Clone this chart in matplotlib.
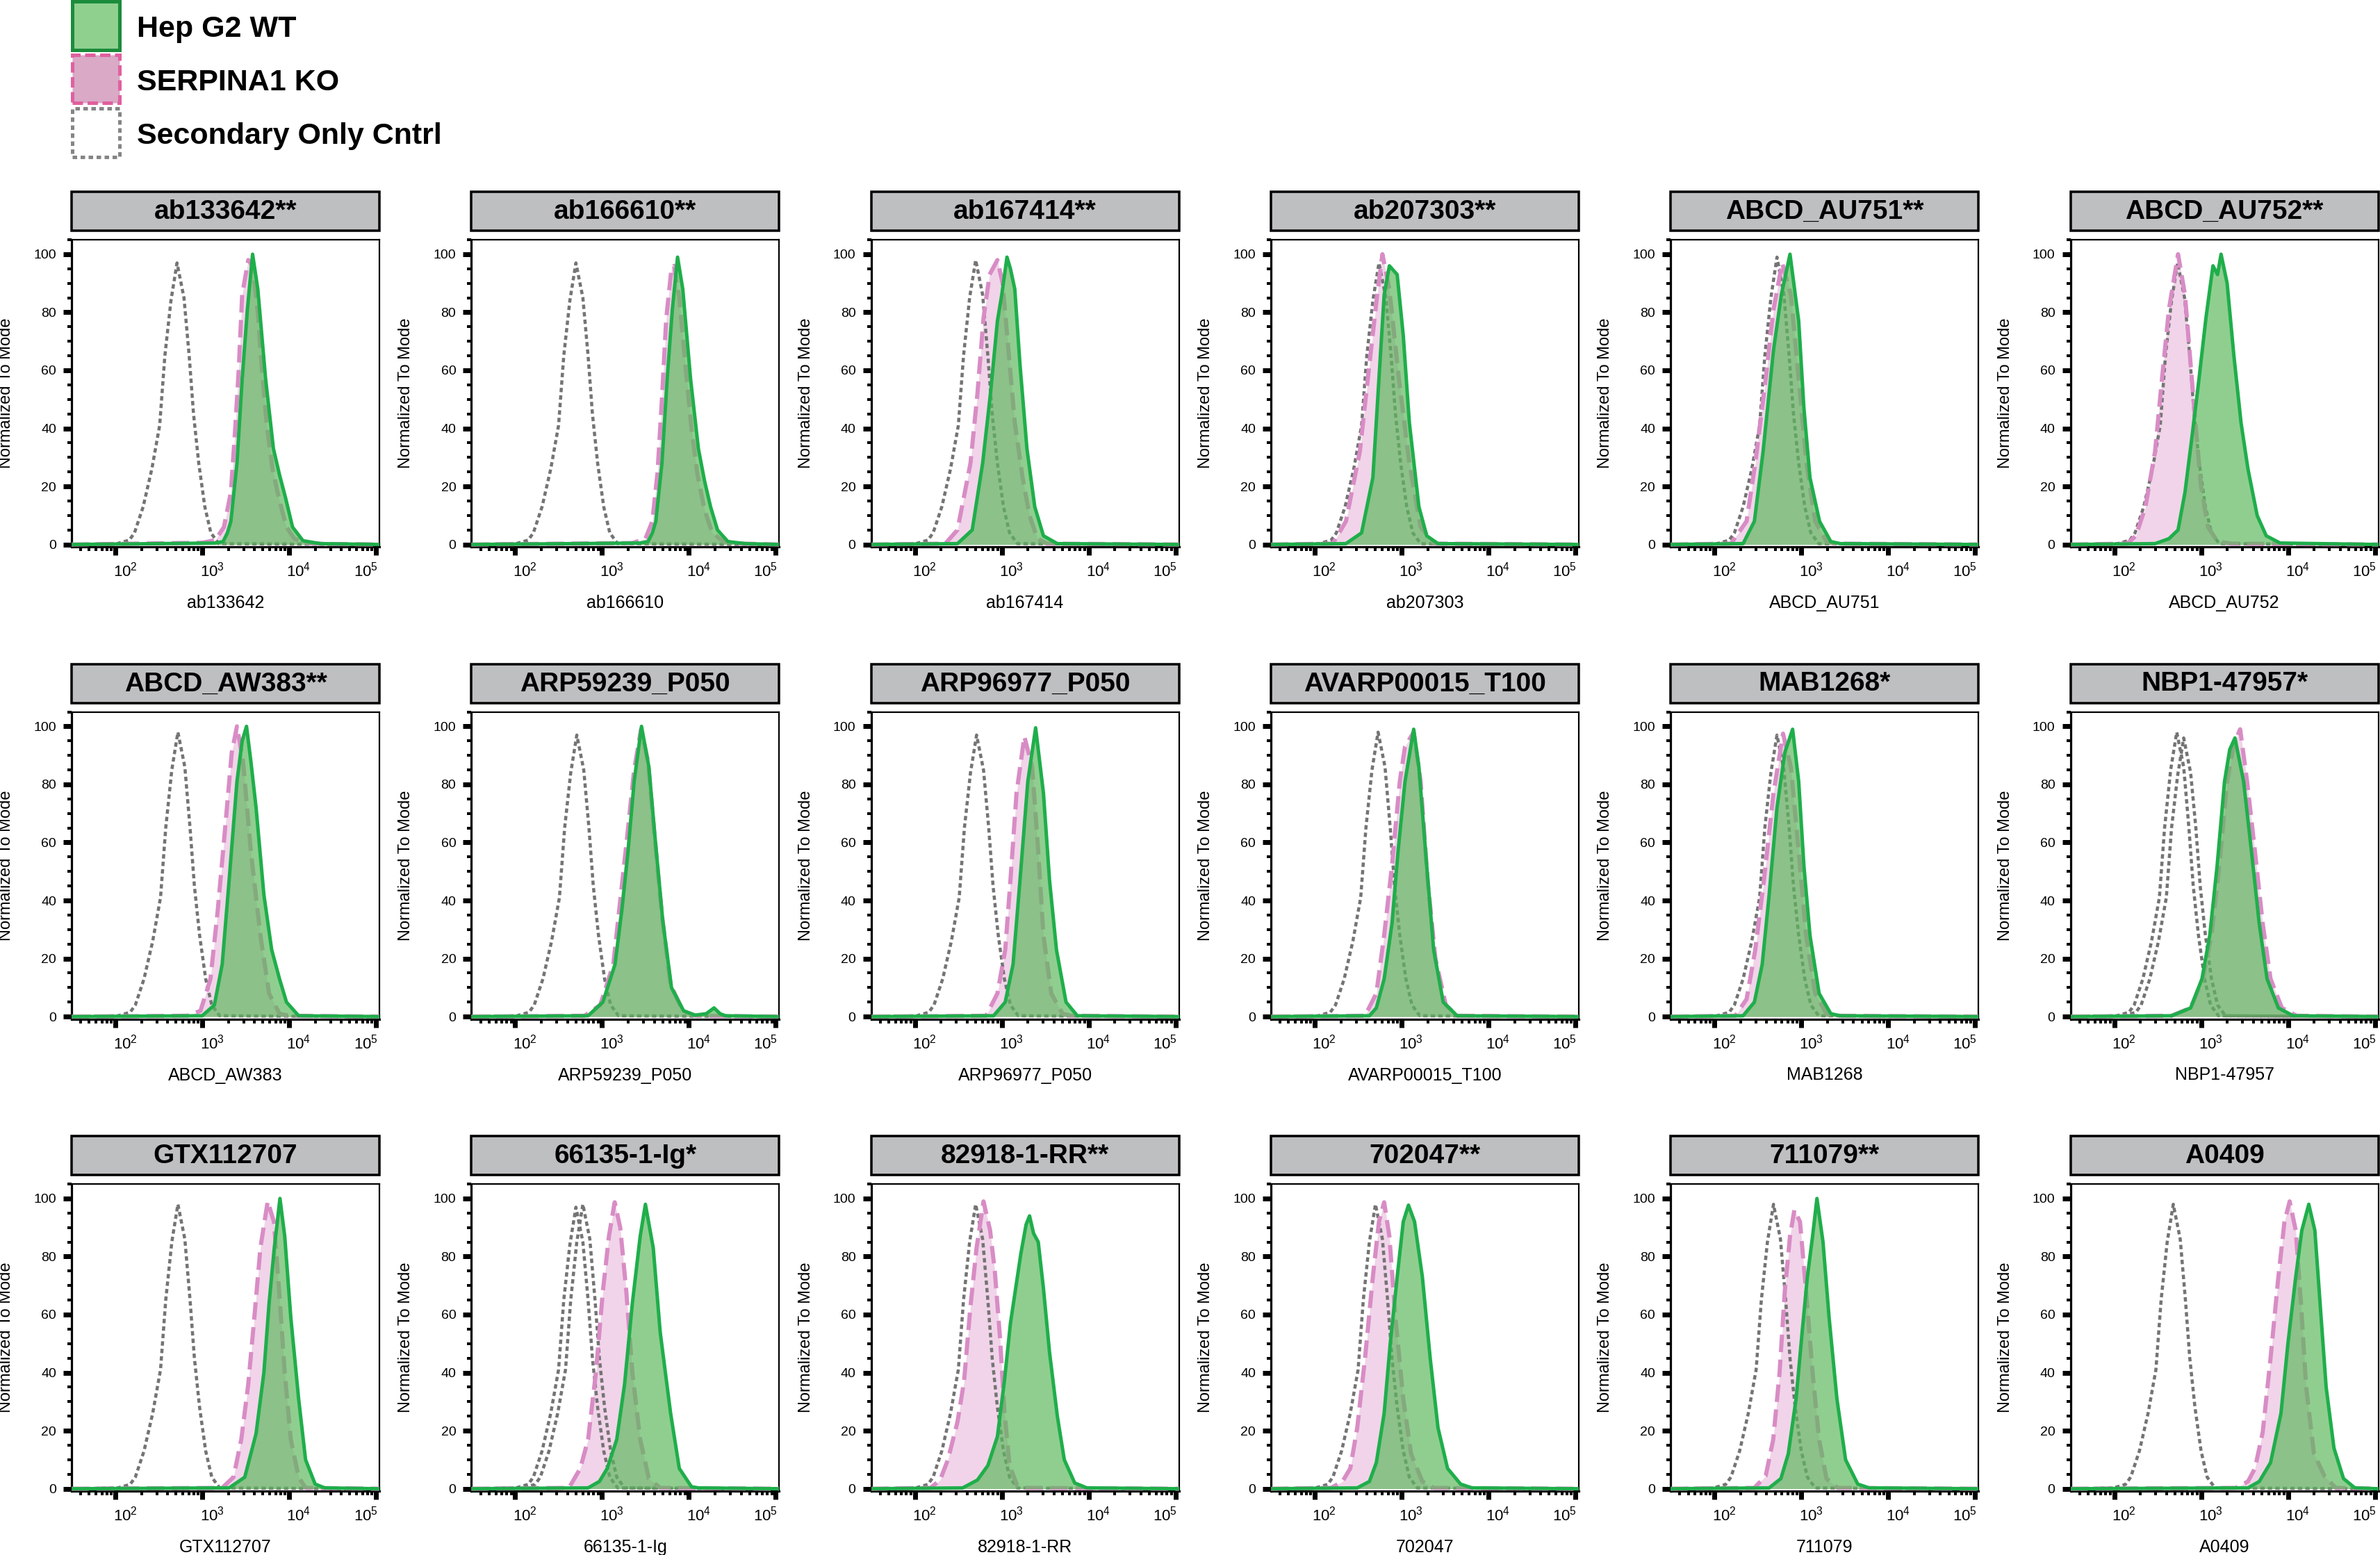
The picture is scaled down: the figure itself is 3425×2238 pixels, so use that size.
import numpy as np
import matplotlib
matplotlib.use("Agg")
import matplotlib.pyplot as plt
from matplotlib.patches import Rectangle
from matplotlib.ticker import FixedLocator, LogLocator, MultipleLocator, NullFormatter
from matplotlib.transforms import ScaledTranslation

plt.rcParams['font.family'] = ['Liberation Sans', 'DejaVu Sans']
plt.rcParams['mathtext.fontset'] = 'custom'
plt.rcParams['mathtext.rm'] = 'Liberation Sans'
plt.rcParams['mathtext.it'] = 'Liberation Sans:italic'
plt.rcParams['mathtext.bf'] = 'Liberation Sans:bold'

# ---------------- data ----------------
titles = ["ab133642**", "ab166610**", "ab167414**", "ab207303**", "ABCD_AU751**", "ABCD_AU752**",
          "ABCD_AW383**", "ARP59239_P050", "ARP96977_P050", "AVARP00015_T100", "MAB1268*", "NBP1-47957*",
          "GTX112707", "66135-1-Ig*", "82918-1-RR**", "702047**", "711079**", "A0409"]
xlabels = ["ab133642", "ab166610", "ab167414", "ab207303", "ABCD_AU751", "ABCD_AU752",
           "ABCD_AW383", "ARP59239_P050", "ARP96977_P050", "AVARP00015_T100", "MAB1268", "NBP1-47957",
           "GTX112707", "66135-1-Ig", "82918-1-RR", "702047", "711079", "A0409"]
legend_labels = ["Hep G2 WT", "SERPINA1 KO", "Secondary Only Cntrl"]
y_ticks = [0, 20, 40, 60, 80, 100]
x_tick_exps = [2, 3, 4, 5]

# curves: (log10 intensity, % of mode)
# Secondary only control
ct_01 = [(2.02,0.3),(2.16,1.5),(2.22,4),(2.32,13),(2.42,26),(2.51,41),(2.57,65),(2.64,84),(2.71,97),(2.79,85),(2.85,65),(2.90,45),(2.96,28),(3.03,13),(3.10,4),(3.19,0.3)]
ct_02 = [(2.01,0.3),(2.15,1.5),(2.21,4),(2.31,13),(2.41,26),(2.50,41),(2.56,65),(2.63,84),(2.70,97),(2.78,85),(2.84,65),(2.89,45),(2.95,28),(3.02,13),(3.09,4),(3.18,0.3)]
ct_03 = [(2.01,0.3),(2.15,1.5),(2.21,4),(2.31,13),(2.41,26),(2.50,41),(2.56,65),(2.63,85),(2.70,98),(2.78,86),(2.84,65),(2.89,45),(2.95,28),(3.02,13),(3.09,4),(3.18,0.3)]
ct_04 = [(2.05,0.3),(2.19,1.5),(2.25,4),(2.35,13),(2.45,26),(2.54,41),(2.60,65),(2.67,84),(2.74,97),(2.82,85),(2.88,65),(2.93,45),(2.99,28),(3.06,13),(3.13,4),(3.22,0.3)]
ct_05 = [(2.03,0.3),(2.17,1.5),(2.23,4),(2.33,13),(2.43,26),(2.52,41),(2.58,65),(2.65,85),(2.72,99),(2.80,86),(2.86,65),(2.91,45),(2.97,28),(3.04,13),(3.11,4),(3.20,0.3)]
ct_06 = [(2.04,0.3),(2.18,1.5),(2.24,4),(2.34,13),(2.44,26),(2.53,41),(2.59,65),(2.66,84),(2.73,97),(2.81,85),(2.87,65),(2.92,45),(2.98,28),(3.05,13),(3.12,4),(3.21,0.3)]
ct_07 = [(2.03,0.3),(2.17,1.5),(2.23,4),(2.33,13),(2.43,26),(2.52,41),(2.58,65),(2.65,85),(2.72,98),(2.80,86),(2.86,65),(2.91,45),(2.97,28),(3.04,13),(3.11,4),(3.20,0.3)]
ct_08 = [(2.02,0.3),(2.16,1.5),(2.22,4),(2.32,13),(2.42,26),(2.51,41),(2.57,65),(2.64,84),(2.71,97),(2.79,85),(2.85,65),(2.90,45),(2.96,28),(3.03,13),(3.10,4),(3.19,0.3)]
ct_09 = [(2.02,0.3),(2.16,1.5),(2.22,4),(2.32,13),(2.42,26),(2.51,41),(2.57,65),(2.64,84),(2.71,97),(2.79,85),(2.85,65),(2.90,45),(2.96,28),(3.03,13),(3.10,4),(3.19,0.3)]
ct_10 = [(2.04,0.3),(2.18,1.5),(2.24,4),(2.34,13),(2.44,26),(2.53,41),(2.59,65),(2.66,85),(2.73,98),(2.81,86),(2.87,65),(2.92,45),(2.98,28),(3.05,13),(3.12,4),(3.21,0.3)]
ct_11 = [(2.03,0.3),(2.17,1.5),(2.23,4),(2.33,13),(2.43,26),(2.52,41),(2.58,65),(2.65,84),(2.72,97),(2.80,85),(2.86,65),(2.91,45),(2.97,28),(3.04,13),(3.11,4),(3.20,0.3)]
ct_12 = [(2.03,0.3),(2.17,1.5),(2.23,4),(2.33,13),(2.43,26),(2.52,41),(2.58,65),(2.65,85),(2.72,98),(2.80,86),(2.86,65),(2.91,45),(2.97,28),(3.04,13),(3.11,4),(3.20,0.3)]
ct_13 = [(2.03,0.3),(2.17,1.5),(2.23,4),(2.33,13),(2.43,26),(2.52,41),(2.58,65),(2.65,85),(2.72,98),(2.80,86),(2.86,65),(2.91,45),(2.97,28),(3.04,13),(3.11,4),(3.20,0.3)]
ct_14 = [(2.01,0.3),(2.15,1.5),(2.21,4),(2.31,13),(2.41,26),(2.50,41),(2.56,65),(2.63,84),(2.70,97),(2.78,85),(2.84,65),(2.89,45),(2.95,28),(3.02,13),(3.09,4),(3.18,0.3)]
ct_15 = [(2.01,0.3),(2.15,1.5),(2.21,4),(2.31,13),(2.41,26),(2.50,41),(2.56,65),(2.63,85),(2.70,98),(2.78,86),(2.84,65),(2.89,45),(2.95,28),(3.02,13),(3.09,4),(3.18,0.3)]
ct_16 = [(2.01,0.3),(2.15,1.5),(2.21,4),(2.31,13),(2.41,26),(2.50,41),(2.56,65),(2.63,85),(2.70,98),(2.78,86),(2.84,65),(2.89,45),(2.95,28),(3.02,13),(3.09,4),(3.18,0.3)]
ct_17 = [(1.99,0.3),(2.13,1.5),(2.19,4),(2.29,13),(2.39,26),(2.48,41),(2.54,65),(2.61,85),(2.68,98),(2.76,86),(2.82,65),(2.87,45),(2.93,28),(3.00,13),(3.07,4),(3.16,0.3)]
ct_18 = [(1.99,0.3),(2.13,1.5),(2.19,4),(2.29,13),(2.39,26),(2.48,41),(2.54,65),(2.61,85),(2.68,98),(2.76,86),(2.82,65),(2.87,45),(2.93,28),(3.00,13),(3.07,4),(3.16,0.3)]
ct2_12 = [(2.11,0.3),(2.25,1.5),(2.31,4),(2.41,13),(2.51,26),(2.60,41),(2.66,65),(2.73,83),(2.80,96),(2.88,84),(2.94,65),(2.99,45),(3.05,28),(3.12,13),(3.19,4),(3.28,0.3)]
ct2_14 = [(2.09,0.3),(2.23,1.5),(2.29,4),(2.39,13),(2.49,26),(2.58,41),(2.64,65),(2.71,85),(2.78,98),(2.86,86),(2.92,65),(2.97,45),(3.03,28),(3.10,13),(3.17,4),(3.26,0.3)]

# SERPINA1 KO
ko_01 = [(3.00,0.6),(3.15,1.5),(3.25,6),(3.33,18),(3.38,40),(3.42,60),(3.46,86),(3.53,98),(3.58,96),(3.64,80),(3.67,67),(3.74,42),(3.81,26),(3.89,15),(3.97,6),(4.06,2),(4.20,0.5),(4.40,0.2)]
ko_02 = [(3.35,0.5),(3.50,2),(3.58,8),(3.64,25),(3.69,50),(3.74,78),(3.80,95),(3.83,96),(3.89,85),(3.96,62),(4.03,40),(4.10,24),(4.18,12),(4.27,4),(4.40,1),(4.60,0.3)]
ko_03 = [(2.35,0.3),(2.49,5),(2.64,28),(2.72,52),(2.79,78),(2.86,93),(2.95,98),(3.01,90),(3.08,66),(3.15,42),(3.24,23),(3.32,10),(3.41,2),(3.52,0.3)]
ko_04 = [(2.21,0.3),(2.36,8),(2.52,32),(2.63,62),(2.72,86),(2.78,100),(2.86,88),(2.97,57),(3.09,28),(3.22,6),(3.38,0.3)]
ko_05 = [(2.19,0.3),(2.37,8),(2.47,28),(2.59,57),(2.68,81),(2.78,97),(2.88,86),(2.97,57),(3.06,28),(3.16,8),(3.29,1),(3.40,0.3)]
ko_06 = [(2.15,0.3),(2.25,3),(2.36,13),(2.47,32),(2.55,57),(2.63,81),(2.735,100),(2.815,86),(2.88,62),(2.935,42),(3.00,20),(3.08,6),(3.19,1),(3.35,0.3)]
ko_07 = [(2.83,0.3),(2.98,2),(3.095,13),(3.18,37),(3.27,67),(3.34,91),(3.40,100),(3.47,88),(3.56,57),(3.67,28),(3.77,8),(3.89,1),(4.00,0.3)]
ko_08 = [(2.80,0.3),(2.98,4),(3.13,18),(3.21,40),(3.29,62),(3.37,85),(3.45,99),(3.53,88),(3.60,64),(3.69,35),(3.79,11),(3.93,2),(4.08,0.3)]
ko_09 = [(2.82,0.3),(2.95,8),(3.04,23),(3.10,47),(3.17,77),(3.26,96.5),(3.35,86),(3.42,57),(3.48,28),(3.57,8),(3.70,1),(3.80,0.3)]
ko_10 = [(2.58,0.3),(2.71,8),(2.80,28),(2.89,52),(2.98,81),(3.04,93),(3.14,98),(3.22,81),(3.30,47),(3.39,20),(3.51,4),(3.64,0.3)]
ko_11 = [(2.24,0.3),(2.37,6),(2.47,23),(2.57,47),(2.68,77),(2.79,97.5),(2.88,86),(2.97,57),(3.055,28),(3.16,8),(3.29,1),(3.40,0.3)]
ko_12 = [(2.66,0.3),(2.88,3),(3.02,13),(3.12,28),(3.21,52),(3.30,81),(3.38,94),(3.45,99),(3.53,81),(3.62,57),(3.71,32),(3.80,13),(3.93,3),(4.10,0.3)]
ko_13 = [(3.23,0.3),(3.36,4),(3.45,17),(3.53,36),(3.60,59),(3.67,83),(3.754,99),(3.825,92),(3.886,68),(3.95,40),(4.02,17),(4.11,4),(4.19,0.3)]
ko_14 = [(2.62,0.3),(2.75,7),(2.84,17),(2.93,40),(3.01,68),(3.08,87),(3.146,98.7),(3.21,90),(3.28,68),(3.35,40),(3.44,17),(3.54,3.5),(3.67,0.3)]
ko_15 = [(2.18,0.3),(2.29,3),(2.38,10),(2.49,23),(2.566,37),(2.637,62),(2.71,83),(2.79,99),(2.866,89),(2.92,75),(2.98,52),(3.03,27),(3.09,8),(3.18,1),(3.29,0.3)]
ko_16 = [(2.19,0.3),(2.32,2.5),(2.41,7),(2.49,21),(2.58,45),(2.67,73),(2.74,92),(2.80,98.7),(2.86,87),(2.93,59),(3.02,31),(3.11,12),(3.24,2.5),(3.37,0.3)]
ko_17 = [(2.46,0.3),(2.59,4.4),(2.677,17),(2.75,40),(2.81,68),(2.87,87),(2.92,96),(2.985,92),(3.055,68),(3.13,40),(3.205,17),(3.29,3.5),(3.42,0.3)]
ko_18 = [(3.40,0.3),(3.54,2.5),(3.62,7),(3.71,19.5),(3.80,45),(3.89,73),(3.96,92),(4.02,99),(4.09,89),(4.15,64),(4.21,35),(4.30,12),(4.42,4.4),(4.55,0.3)]

# Hep G2 WT
wt_01 = [(3.15,0.5),(3.24,1),(3.29,4),(3.33,8),(3.40,28),(3.46,57),(3.52,81),(3.58,100),(3.64,88),(3.73,57),(3.82,33),(3.89,24),(3.96,16),(4.04,6),(4.16,1.3),(4.36,0.3)]
wt_02 = [(3.44,0.5),(3.53,1),(3.58,4),(3.62,8),(3.69,28),(3.75,57),(3.81,81),(3.87,99),(3.93,88),(4.02,57),(4.11,33),(4.18,22),(4.25,13),(4.33,5),(4.45,1),(4.65,0.3)]
wt_03 = [(2.49,0.3),(2.66,5),(2.78,28),(2.87,52),(2.95,77),(3.00,86),(3.06,99),(3.10,95),(3.15,88),(3.21,62),(3.29,33),(3.38,13),(3.48,3),(3.64,0.3)]
wt_04 = [(2.36,0.3),(2.54,4),(2.67,23),(2.74,57),(2.80,86),(2.86,96),(2.95,93),(3.02,72),(3.09,42),(3.20,13),(3.29,3),(3.42,0.3)]
wt_05 = [(2.33,0.3),(2.46,8),(2.56,32),(2.68,67),(2.77,86),(2.87,100),(2.97,77),(3.03,47),(3.10,23),(3.21,8),(3.34,1),(3.45,0.3)]
wt_06 = [(2.47,0.3),(2.63,2),(2.735,5),(2.815,18),(2.895,37),(2.976,57),(3.056,78),(3.137,96),(3.19,93),(3.23,100),(3.30,90),(3.378,65),(3.46,42),(3.54,26),(3.646,10),(3.75,3),(3.91,0.5)]
wt_07 = [(3.00,0.3),(3.14,4),(3.23,18),(3.31,47),(3.40,81),(3.46,95),(3.51,100),(3.56,88),(3.62,72),(3.71,42),(3.80,23),(3.89,13),(3.97,5),(4.11,0.3)]
wt_08 = [(2.84,0.3),(3.01,5),(3.15,18),(3.23,37),(3.30,57),(3.37,81),(3.455,100),(3.54,86),(3.61,62),(3.70,33),(3.80,10),(3.94,2),(4.07,0.5),(4.20,1),(4.29,3),(4.36,1),(4.42,0.3)]
wt_09 = [(2.906,0.3),(3.04,5),(3.13,18),(3.21,47),(3.30,81),(3.39,99.5),(3.48,77),(3.55,47),(3.63,23),(3.74,5),(3.87,0.3)]
wt_10 = [(2.63,0.3),(2.71,3),(2.80,13),(2.89,32),(2.96,57),(3.04,81),(3.14,99),(3.20,86),(3.29,52),(3.37,23),(3.48,5),(3.64,0.3)]
wt_11 = [(2.33,0.3),(2.46,5),(2.55,18),(2.63,42),(2.72,72),(2.81,91),(2.90,99),(2.97,81),(3.03,52),(3.10,28),(3.205,8),(3.34,1),(3.45,0.3)]
wt_12 = [(2.66,0.3),(2.88,3),(3.01,13),(3.10,28),(3.185,52),(3.27,81),(3.33,92),(3.39,96),(3.49,81),(3.58,57),(3.67,32),(3.76,13),(3.89,3),(4.06,0.3)]
wt_13 = [(3.31,0.3),(3.49,4),(3.62,19),(3.71,40),(3.77,64),(3.83,83),(3.895,100),(3.95,87),(4.02,59),(4.11,31),(4.19,10),(4.30,1.6),(4.41,0.3)]
wt_14 = [(2.84,0.3),(2.97,2.5),(3.06,7),(3.17,17),(3.26,36),(3.35,64),(3.44,87),(3.50,98),(3.59,83),(3.67,54),(3.79,26),(3.89,7),(4.03,0.7),(4.11,0.3)]
wt_15 = [(2.55,0.3),(2.72,3),(2.84,8),(2.95,18),(3.03,37),(3.10,57),(3.17,71),(3.22,81),(3.28,91),(3.32,94),(3.366,88),(3.42,85),(3.48,69),(3.55,47),(3.64,25),(3.72,10),(3.84,2),(3.98,0.3)]
wt_16 = [(2.49,0.3),(2.63,2.5),(2.71,9),(2.80,26),(2.87,50),(2.95,73),(3.02,92),(3.08,97.7),(3.15,92),(3.24,73),(3.33,45),(3.42,21),(3.53,7),(3.68,1.6),(3.81,0.3)]
wt_17 = [(2.63,0.3),(2.765,3.5),(2.85,12),(2.94,31),(3.01,54),(3.07,73),(3.13,87),(3.18,100),(3.25,85),(3.32,59),(3.41,31),(3.51,10),(3.65,1.6),(3.78,0.3)]
wt_18 = [(3.54,0.3),(3.67,2.5),(3.80,9),(3.92,26),(4.00,50),(4.09,73),(4.16,89),(4.24,98),(4.31,89),(4.37,64),(4.44,35),(4.53,14),(4.64,3.5),(4.77,0.3)]

CT = [ct_01, ct_02, ct_03, ct_04, ct_05, ct_06, ct_07, ct_08, ct_09, ct_10, ct_11, ct_12,
      ct_13, ct_14, ct_15, ct_16, ct_17, ct_18]
CT2 = {11: ct2_12, 13: ct2_14}
KO = [ko_01, ko_02, ko_03, ko_04, ko_05, ko_06, ko_07, ko_08, ko_09, ko_10, ko_11, ko_12,
      ko_13, ko_14, ko_15, ko_16, ko_17, ko_18]
WT = [wt_01, wt_02, wt_03, wt_04, wt_05, wt_06, wt_07, wt_08, wt_09, wt_10, wt_11, wt_12,
      wt_13, wt_14, wt_15, wt_16, wt_17, wt_18]

# ---------------- style / layout ----------------
W, H, DPI = 3425, 2238, 100
XLO, XHI = 1.496, 5.04
YLO, YHI = -0.8, 105.0
AX_W, AX_H = 443, 442
COL0, COL_STEP = 103, 575.3
ROW0, ROW_STEP = 345, 679.5

GREEN_LINE = '#1fae4b'
GREEN_FILL = '#5cb85c'
PINK_LINE = '#d88cc5'
PINK_FILL = '#f1d4e9'
GRAY_LINE = '#747474'
BOX_GRAY = '#bebfc1'

fig = plt.figure(figsize=(W / DPI, H / DPI), dpi=DPI)


def curve_xy(curve):
    lx = [XLO] + [p[0] for p in curve] + [XHI]
    yy = [0.0] + [p[1] for p in curve] + [0.0]
    return np.power(10.0, np.array(lx)), np.array(yy)


def pt(pxv):
    return pxv * 72.0 / DPI


for i in range(18):
    r, c = divmod(i, 6)
    left = COL0 + COL_STEP * c
    top = ROW0 + ROW_STEP * r
    ax = fig.add_axes([left / W, 1 - (top + AX_H) / H, AX_W / W, AX_H / H])
    ax.set_xscale('log')
    ax.set_xlim(10 ** XLO, 10 ** XHI)
    ax.set_ylim(YLO, YHI)

    # KO fill
    xk, yk = curve_xy(KO[i])
    ax.fill_between(xk, 0, yk, color=PINK_FILL, lw=0, zorder=1)
    # control lines
    xc, yc = curve_xy(CT[i])
    ax.plot(xc, yc, color=GRAY_LINE, lw=pt(4.5), dashes=(1.4, 1.0), zorder=2,
            dash_capstyle='butt')
    if i in CT2:
        xc2, yc2 = curve_xy(CT2[i])
        ax.plot(xc2, yc2, color=GRAY_LINE, lw=pt(4.5), dashes=(1.4, 1.0), zorder=2,
                dash_capstyle='butt')
    # KO dashed line
    ax.plot(xk, yk, color=PINK_LINE, lw=pt(6), dashes=(4.2, 1.8), zorder=3,
            dash_capstyle='butt')
    # WT
    xw, yw = curve_xy(WT[i])
    ax.fill_between(xw, 0, yw, color=GREEN_FILL, alpha=0.68, lw=0, zorder=4)
    ax.plot(xw, yw, color=GREEN_LINE, lw=pt(5), zorder=5, solid_joinstyle='round')

    # axes styling
    for s in ['left', 'bottom']:
        ax.spines[s].set_linewidth(pt(3.2))
    for s in ['top', 'right']:
        ax.spines[s].set_linewidth(pt(2.2))
    ax.set_yticks(y_ticks)
    ax.set_yticklabels([str(v) for v in y_ticks])
    ax.yaxis.set_minor_locator(MultipleLocator(5))
    ax.xaxis.set_major_locator(FixedLocator([10.0 ** e for e in x_tick_exps]))
    ax.set_xticklabels([r'$\mathregular{10^{%d}}$' % e for e in x_tick_exps])
    ax.xaxis.set_minor_locator(LogLocator(base=10, subs=np.arange(2, 10), numticks=30))
    ax.xaxis.set_minor_formatter(NullFormatter())
    ax.tick_params(axis='both', which='major', direction='out', length=pt(12), width=pt(7),
                   color='black')
    ax.tick_params(axis='both', which='minor', direction='out', length=pt(6), width=pt(4),
                   color='black')
    ax.tick_params(axis='y', which='major', pad=pt(10), labelsize=14)
    ax.tick_params(axis='x', which='major', pad=pt(10), labelsize=16)
    xlabs = ax.get_xticklabels()
    for k, lab in enumerate(xlabs):
        dx = 14 if k < len(xlabs) - 1 else -15
        lab.set_transform(lab.get_transform() + ScaledTranslation(dx / DPI, 0, fig.dpi_scale_trans))

    # title box
    ax.add_patch(Rectangle((0, 1 + 13 / AX_H), 1, 56 / AX_H, transform=ax.transAxes,
                           facecolor=BOX_GRAY, edgecolor='black', lw=pt(3.5), clip_on=False, zorder=10))
    ax.text(0.5, 1 + 40 / AX_H, titles[i], transform=ax.transAxes, ha='center', va='center',
            fontsize=28, fontweight='bold', zorder=11)
    # axis labels
    ax.text(-94 / AX_W, 0.5, 'Normalized To Mode', transform=ax.transAxes, rotation=90,
            ha='center', va='center', fontsize=17)
    ax.text(0.5, -81 / AX_H, xlabels[i], transform=ax.transAxes, ha='center', va='center',
            fontsize=18)

# ---------------- legend ----------------
leg_boxes = [(2, 72), (79, 148), (156, 226)]
leg_styles = [
    dict(facecolor='#8fd08f', edgecolor='#1c8c3c', lw=pt(5), linestyle='-'),
    dict(facecolor='#d9a9c6', edgecolor='#e0609f', lw=pt(5), linestyle=(0, (3, 1.3))),
    dict(facecolor='white', edgecolor='#858585', lw=pt(5), linestyle=(0, (1.3, 1.0))),
]
for (y0, y1), sty, lab in zip(leg_boxes, leg_styles, legend_labels):
    rect = Rectangle((104 / W, 1 - y1 / H), 68 / W, (y1 - y0) / H, transform=fig.transFigure,
                     **sty)
    fig.add_artist(rect)
    fig.text(197 / W, 1 - ((y0 + y1) / 2 + 5) / H, lab, ha='left', va='center', fontsize=31,
             fontweight='bold')

fig.savefig('out.png', dpi=DPI)
